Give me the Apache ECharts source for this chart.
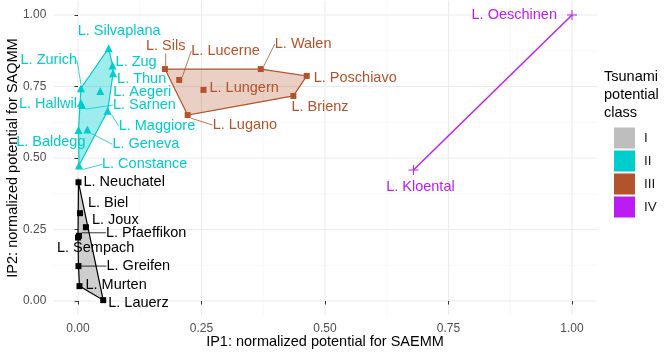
<!DOCTYPE html>
<html><head><meta charset="utf-8">
<script src="https://cdn.jsdelivr.net/npm/echarts@6/dist/echarts.min.js"></script>
<style>html,body{margin:0;padding:0;background:#fff}#c{width:671px;height:352px}</style>
</head><body><div id="c"></div>
<script>
// ---- data ----
const classNames = ['I', 'II', 'III', 'IV'];

const lakesI = ['L. Neuchatel', 'L. Biel', 'L. Joux', 'L. Pfaeffikon', 'L. Sempach', 'L. Greifen', 'L. Murten', 'L. Lauerz'];
const ip1I = [0.001, 0.004, 0.016, 0.002, 0.000, 0.001, 0.003, 0.051];
const ip2I = [0.415, 0.307, 0.258, 0.228, 0.222, 0.122, 0.052, 0.003];

const lakesII = ['L. Silvaplana', 'L. Zug', 'L. Thun', 'L. Zurich', 'L. Aegeri', 'L. Hallwil', 'L. Sarnen', 'L. Maggiore', 'L. Geneva', 'L. Baldegg', 'L. Constance'];
const ip1II = [0.062, 0.070, 0.071, 0.006, 0.045, 0.006, 0.008, 0.060, 0.019, 0.001, 0.002];
const ip2II = [0.884, 0.823, 0.796, 0.744, 0.734, 0.692, 0.685, 0.665, 0.600, 0.598, 0.474];

const lakesIII = ['L. Sils', 'L. Lucerne', 'L. Walen', 'L. Poschiavo', 'L. Lungern', 'L. Brienz', 'L. Lugano'];
const ip1III = [0.176, 0.205, 0.370, 0.463, 0.254, 0.436, 0.222];
const ip2III = [0.811, 0.773, 0.811, 0.787, 0.738, 0.717, 0.650];

const lakesIV = ['L. Oeschinen', 'L. Kloental'];
const ip1IV = [1.000, 0.679];
const ip2IV = [1.000, 0.458];

const axisTicks = [0, 0.25, 0.5, 0.75, 1];
const axisTickLabels = ['0.00', '0.25', '0.50', '0.75', '1.00'];
const minorBreaks = [0.125, 0.375, 0.625, 0.875];

// ---- styles / label placement (not data) ----
const FONT = 'Liberation Sans, Arial, Helvetica, sans-serif';
const cls = {
  I:   {point: '#000000', fill: 'rgba(190,190,190,0.75)', stroke: '#000000', legend: '#BEBEBE', symbol: 'rect', size: 6},
  II:  {point: '#00CDCD', fill: 'rgba(0,205,205,0.38)', stroke: '#00CDCD', legend: '#00CDCD', symbol: 'triangle', size: 8},
  III: {point: '#B3532B', fill: 'rgba(179,83,43,0.28)', stroke: '#B3532B', legend: '#B3532B', symbol: 'rect', size: 6},
  IV:  {point: '#BC1CF2', fill: 'none', stroke: '#BC1CF2', legend: '#BC1CF2',
        symbol: 'path://M4.5,0 L5.5,0 L5.5,4.5 L10,4.5 L10,5.5 L5.5,5.5 L5.5,10 L4.5,10 L4.5,5.5 L0,5.5 L0,4.5 L4.5,4.5 Z', size: 10}
};
const place = {
  'L. Silvaplana': {dx: -31, dy: -17},
  'L. Zug': {dx: 3, dy: -4},
  'L. Thun': {dx: 4, dy: 5.5},
  'L. Zurich': {dx: -4, dy: -28, align: 'right', line: true},
  'L. Aegeri': {dx: 13, dy: 1},
  'L. Hallwil': {dx: -4, dy: 1, align: 'right'},
  'L. Sarnen': {dx: 31, dy: 0, line: true},
  'L. Maggiore': {dx: 11, dy: 15, line: true},
  'L. Geneva': {dx: 25, dy: 15, line: true},
  'L. Baldegg': {dx: 7, dy: 12, align: 'right'},
  'L. Constance': {dx: 23, dy: -1, line: true},
  'L. Neuchatel': {dx: 5, dy: 0},
  'L. Biel': {dx: 8, dy: -10},
  'L. Joux': {dx: 6, dy: -7},
  'L. Pfaeffikon': {dx: 27, dy: -3, line: true},
  'L. Sempach': {dx: -21, dy: 10},
  'L. Greifen': {dx: 28, dy: 0, line: true},
  'L. Murten': {dx: 6, dy: -1},
  'L. Lauerz': {dx: 5, dy: 3},
  'L. Sils': {dx: -19, dy: -23, line: true},
  'L. Lucerne': {dx: 12, dy: -29, line: true},
  'L. Walen': {dx: 14, dy: -25, line: true},
  'L. Poschiavo': {dx: 7, dy: 2},
  'L. Lungern': {dx: 6, dy: -2},
  'L. Brienz': {dx: -2, dy: 11},
  'L. Lugano': {dx: 25, dy: 10, line: true},
  'L. Oeschinen': {dx: -15, dy: 0, align: 'right'},
  'L. Kloental': {dx: 7, dy: 17, align: 'center'}
};

function convexHull(points) {
  const p = points.slice().sort((a, b) => a[0] - b[0] || a[1] - b[1]);
  if (p.length < 3) return p;
  const cross = (o, a, b) => (a[0] - o[0]) * (b[1] - o[1]) - (a[1] - o[1]) * (b[0] - o[0]);
  const lower = [], upper = [];
  for (const q of p) { while (lower.length >= 2 && cross(lower[lower.length - 2], lower[lower.length - 1], q) <= 0) lower.pop(); lower.push(q); }
  for (let i = p.length - 1; i >= 0; i--) { const q = p[i]; while (upper.length >= 2 && cross(upper[upper.length - 2], upper[upper.length - 1], q) <= 0) upper.pop(); upper.push(q); }
  upper.pop(); lower.pop();
  return lower.concat(upper);
}

const groups = [
  {name: 'I', lakes: lakesI, x: ip1I, y: ip2I},
  {name: 'II', lakes: lakesII, x: ip1II, y: ip2II},
  {name: 'III', lakes: lakesIII, x: ip1III, y: ip2III},
  {name: 'IV', lakes: lakesIV, x: ip1IV, y: ip2IV}
];

const series = [];
// panel grid lines (behind everything)
series.push({
  type: 'custom', name: 'panelGrid', coordinateSystem: 'cartesian2d', silent: true, z: 0,
  encode: {x: 0, y: 1},
  data: [[0, 0]],
  renderItem: (params, api) => {
    const lo = -0.05, hi = 1.05;
    const children = [];
    const add = (v, minor) => {
      const st = {stroke: minor ? '#F2F2F2' : '#EBEBEB', lineWidth: minor ? 0.6 : 1.1};
      const a = api.coord([v, lo]), b = api.coord([v, hi]);
      children.push({type: 'line', shape: {x1: a[0], y1: a[1], x2: b[0], y2: b[1]}, style: st});
      const c = api.coord([lo, v]), d = api.coord([hi, v]);
      children.push({type: 'line', shape: {x1: c[0], y1: c[1], x2: d[0], y2: d[1]}, style: st});
    };
    minorBreaks.forEach(v => add(v, true));
    axisTicks.forEach(v => add(v, false));
    return {type: 'group', children};
  }
});

groups.forEach(g => {
  const st = cls[g.name];
  const hull = convexHull(g.x.map((x, i) => [x, g.y[i]]));
  series.push({
    type: 'custom', name: g.name, coordinateSystem: 'cartesian2d', silent: true, z: 1,
    itemStyle: {color: st.legend},
    encode: {x: 0, y: 1},
    data: [[g.x[0], g.y[0]]],
    renderItem: (params, api) => {
      const pts = hull.map(pt => api.coord(pt));
      if (pts.length > 2) {
        return {type: 'polygon', shape: {points: pts}, style: {fill: st.fill, stroke: st.stroke, lineWidth: 1.2}};
      }
      return {type: 'polyline', shape: {points: pts}, style: {fill: null, stroke: st.stroke, lineWidth: 1.4}};
    }
  });
  series.push({
    type: 'scatter', name: g.name + ' lakes', z: 3,
    symbol: st.symbol, symbolSize: st.size,
    itemStyle: {color: st.point, opacity: 1},
    emphasis: {disabled: true},
    label: {
      show: true, position: 'inside', align: 'left', verticalAlign: 'middle',
      formatter: '{b}', color: st.point, fontSize: 14.5, fontFamily: FONT
    },
    labelLine: {show: false, lineStyle: {color: st.point, width: 0.8}},
    labelLayout: (params) => {
      const pl = place[params.text] || {dx: 0, dy: 0};
      return {dx: pl.dx, dy: pl.dy};
    },
    data: g.lakes.map((n, i) => {
      const pl = place[n] || {};
      return {
        name: n, value: [g.x[i], g.y[i]],
        label: {align: pl.align || 'left'},
        labelLine: {show: !!pl.line, lineStyle: {color: st.point, width: 0.8}}
      };
    })
  });
});

const chart = echarts.init(document.getElementById('c'), null, {renderer: 'canvas'});
const valueAxis = (isX) => ({
  type: 'value', min: -0.05, max: 1.05,
  name: isX ? 'IP1: normalized potential for SAEMM' : 'IP2: normalized potential for SAQMM',
  nameLocation: 'middle', nameGap: isX ? 19 : 33, nameMoveOverlap: false,
  nameTextStyle: {fontSize: 14.5, color: '#000', fontFamily: FONT},
  axisLine: {show: false},
  axisTick: {show: true, customValues: axisTicks, length: 3.5, lineStyle: {color: '#333', width: 1}},
  axisLabel: {
    customValues: axisTicks, fontSize: 12, color: '#4D4D4D', fontFamily: FONT, margin: 7,
    formatter: v => { const i = axisTicks.findIndex(t => Math.abs(t - v) < 1e-9); return i >= 0 ? axisTickLabels[i] : ''; }
  },
  splitLine: {show: false}
});
chart.setOption({
  animation: false,
  backgroundColor: '#fff',
  grid: {left: 53.3, right: 74.3, top: 0.7, bottom: 36.7, containLabel: false, outerBoundsMode: 'none'},
  xAxis: valueAxis(true),
  yAxis: valueAxis(false),
  legend: {
    orient: 'vertical', left: 614, top: 127.5, padding: 0,
    itemWidth: 21, itemHeight: 21, itemGap: 2, icon: 'rect', selectedMode: false,
    textStyle: {fontSize: 13.5, color: '#1A1A1A', fontFamily: FONT, padding: [0, 0, 0, 4]},
    data: classNames.map(n => ({name: n, itemStyle: {color: cls[n].legend, borderWidth: 0}}))
  },
  graphic: [{
    type: 'text', left: 604, top: 68,
    style: {text: 'Tsunami\npotential\nclass', fontSize: 14.5, lineHeight: 18, fill: '#000', fontFamily: FONT}
  }],
  series: series
});
</script></body></html>
